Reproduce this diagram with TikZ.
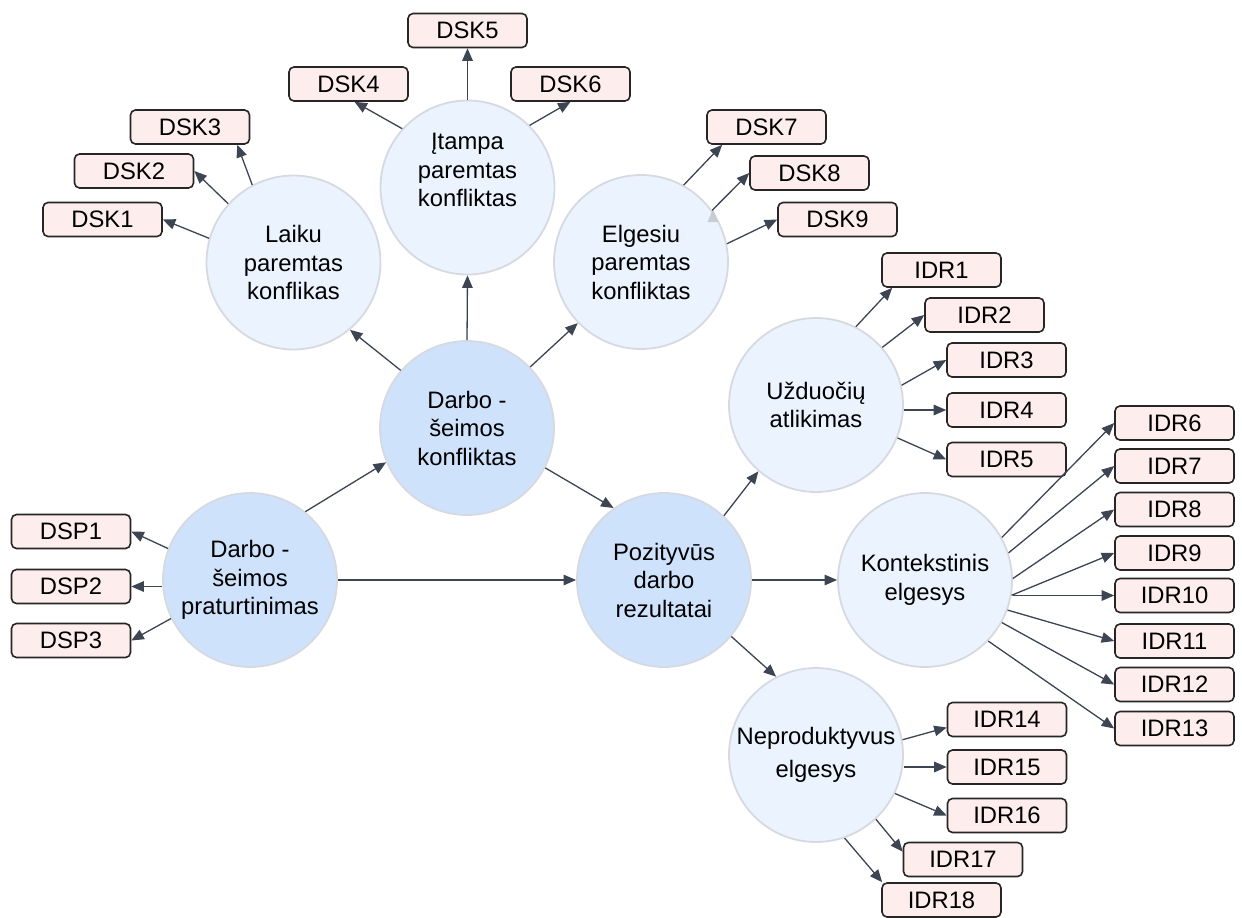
\documentclass[tikz,border=0pt]{standalone}
\usepackage{fontspec}
\setmainfont{Liberation Sans}
\usetikzlibrary{arrows.meta,calc}
\definecolor{darkfill}{HTML}{CFE2FC}
\definecolor{lightfill}{HTML}{EBF3FE}
\definecolor{circedge}{HTML}{D6DAE0}
\definecolor{boxfill}{HTML}{FDEDEC}
\definecolor{boxedge}{HTML}{262626}
\definecolor{arrcol}{HTML}{3D4452}
\definecolor{ghost}{HTML}{C8CDD4}
\tikzset{
  circbase/.style={circle, minimum size=174pt, inner sep=0pt, draw=circedge, line width=1.8pt, align=center,
    font=\fontsize{23.8}{28.5}\selectfont},
  maincirc/.style={circbase, fill=darkfill},
  subcirc/.style={circbase, fill=lightfill},
  itembox/.style={rectangle, rounded corners=5pt, minimum width=119pt, minimum height=34pt, inner sep=0pt,
    draw=boxedge, line width=1.6pt, fill=boxfill, font=\fontsize{23.8}{27}\selectfont},
  arr/.style={draw=arrcol, line width=1.3pt, -{Triangle[length=12.5pt,width=10.5pt]}, fill=arrcol}
}
\begin{document}
\begin{tikzpicture}[x=1pt,y=-1pt]
\useasboundingbox (0,0) rectangle (1242,918);
% circles
\node[maincirc] (konf) at (467,428) {Darbo -\\šeimos\\konfliktas};
\node[maincirc] (prat) at (250,580) {Darbo -\\šeimos\\praturtinimas};
\node[maincirc] (poz) at (664,580) {Pozityvūs\\darbo\\rezultatai};
\node[subcirc] (laiku) at (293.5,262.5) {Laiku\\paremtas\\konflikas};
\node[subcirc] (itampa) at (467.5,187.5) {Įtampa\\paremtas\\konfliktas\\[6pt]};
\node[subcirc] (elg) at (641,262) {Elgesiu\\paremtas\\konfliktas};
\node[subcirc] (uzd) at (816,405) {Užduočių\\atlikimas};
\node[subcirc] (kont) at (925,580) {Kontekstinis\\elgesys};
\node[subcirc] (nep) at (816,755) {Neproduktyvus\\[5pt]elgesys};
% boxes
\node[itembox] (dsk1) at (102.5,219.5) {DSK1};
\node[itembox] (dsk2) at (134,171) {DSK2};
\node[itembox] (dsk3) at (190,127) {DSK3};
\node[itembox] (dsk4) at (348.5,84) {DSK4};
\node[itembox] (dsk5) at (467.5,30.5) {DSK5};
\node[itembox] (dsk6) at (570.5,84) {DSK6};
\node[itembox] (dsk7) at (766.5,127) {DSK7};
\node[itembox] (dsk8) at (809.5,173) {DSK8};
\node[itembox] (dsk9) at (837.5,219.5) {DSK9};
\node[itembox] (idr1) at (941.5,270) {IDR1};
\node[itembox] (idr2) at (984.5,315) {IDR2};
\node[itembox] (idr3) at (1006.5,360) {IDR3};
\node[itembox] (idr4) at (1006.5,410) {IDR4};
\node[itembox] (idr5) at (1006.5,459.5) {IDR5};
\node[itembox] (idr6) at (1174.5,423) {IDR6};
\node[itembox] (idr7) at (1174.5,466) {IDR7};
\node[itembox] (idr8) at (1174.5,509.5) {IDR8};
\node[itembox] (idr9) at (1174.5,553) {IDR9};
\node[itembox] (idr10) at (1174.5,595.5) {IDR10};
\node[itembox] (idr11) at (1174.5,641) {IDR11};
\node[itembox] (idr12) at (1174.5,684.5) {IDR12};
\node[itembox] (idr13) at (1174.5,728.5) {IDR13};
\node[itembox] (idr14) at (1007,719.5) {IDR14};
\node[itembox] (idr15) at (1007,767) {IDR15};
\node[itembox] (idr16) at (1007,815.5) {IDR16};
\node[itembox] (idr17) at (963,859.5) {IDR17};
\node[itembox] (idr18) at (941.5,900) {IDR18};
\node[itembox] (dsp1) at (71,531.5) {DSP1};
\node[itembox] (dsp2) at (71,586.5) {DSP2};
\node[itembox] (dsp3) at (71,640.5) {DSP3};
% ghost triangle
\fill[ghost] (713,209) -- (707.5,222) -- (718.5,222) -- cycle;
% main connectors
\draw[arr] (prat.51) -- (konf.203);
\draw[arr] (konf.139) -- (laiku.-50);
\draw[arr] (konf.north) -- (itampa.south);
\draw[arr] (konf.44) -- (elg.224);
\draw[arr] (konf.-27) -- (poz.125);
\draw[arr] (prat.east) -- (poz.west);
\draw[arr] (poz.47) -- (uzd.229);
\draw[arr] (poz.east) -- (kont.west);
\draw[arr] (poz.-40) -- (nep.117);
% DSP
\draw[arr] (prat.159) -- (dsp1.east);
\draw[arr] (prat.west |- dsp2.east) -- (dsp2.east);
\draw[arr] (prat.206) -- (dsp3.east);
% DSK
\draw[arr] (laiku.164) -- (dsk1.east);
\draw[arr] (laiku.138) -- (dsk2.east);
\draw[arr] (laiku.118) -- ($(dsk3.south east)+(-13,0)$);
\draw[arr] (itampa.138) -- ($(dsk4.south)+(6,0)$);
\draw[arr] (itampa.north) -- (dsk5.south);
\draw[arr] (itampa.45) -- (dsk6.south);
\draw[arr] (elg.61) -- ($(dsk7.south west)+(16,0)$);
\draw[arr] (elg.36) -- (dsk8.west);
\draw[arr] (elg.12) -- (dsk9.west);
% IDR from Uzduociu
\draw[arr] (uzd.63) -- ($(idr1.south west)+(11,0)$);
\draw[arr] (uzd.41) -- (idr2.west);
\draw[arr] (uzd.13) -- (idr3.west);
\draw[arr] (uzd.east |- idr4.west) -- (idr4.west);
\draw[arr] (uzd.-22) -- (idr5.west);
% IDR from Kontekstinis
\draw[arr] (kont.29) -- (idr6.west);
\draw[arr] (kont.18) -- (idr7.west);
\draw[arr] (kont.1) -- (idr8.west);
\draw[arr] (kont.-10) -- (idr9.west);
\draw[arr] (kont.east |- idr10.west) -- (idr10.west);
\draw[arr] (kont.-20.5) -- (idr11.west);
\draw[arr] (kont.-29) -- (idr12.west);
\draw[arr] (kont.-44) -- (idr13.west);
% IDR from Neproduktyvus
\draw[arr] (nep.10.5) -- ($(idr14.west)+(0,8)$);
\draw[arr] (nep.east |- idr15.west) -- (idr15.west);
\draw[arr] (nep.-26) -- (idr16.west);
\draw[arr] (nep.-47) -- ($(idr17.north west)+(0,10)$);
\draw[arr] (nep.-71.5) -- ($(idr18.north west)+(1,0)$);
\end{tikzpicture}
\end{document}
